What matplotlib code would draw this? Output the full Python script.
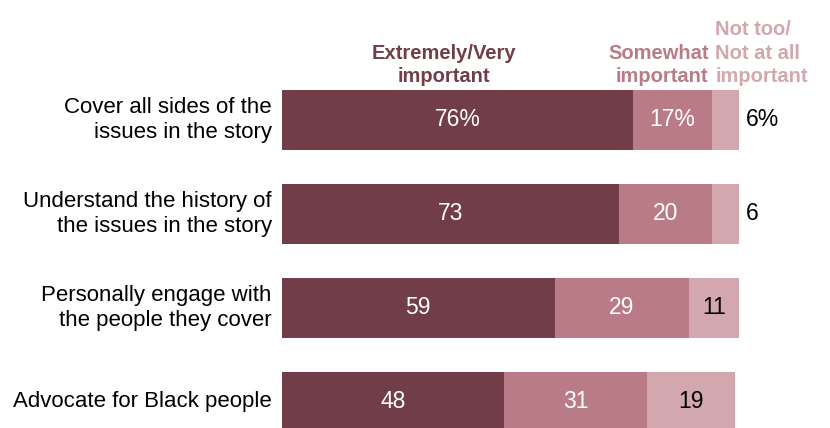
import numpy as np
import matplotlib.pyplot as plt

plt.rcParams['font.family'] = ['Liberation Sans', 'DejaVu Sans']

# Survey responses, share saying each is important
items = ["Cover all sides of the\nissues in the story",
         "Understand the history of\nthe issues in the story",
         "Personally engage with\nthe people they cover",
         "Advocate for Black people"]
very = [76, 73, 59, 48]
somewhat = [17, 20, 29, 31]
not_too = [6, 6, 11, 19]
very_lbl = ["76%", "73", "59", "48"]
some_lbl = ["17%", "20", "29", "31"]
not_lbl = ["6%", "6", "11", "19"]

c_dark = "#713d48"
c_mid = "#b97b86"
c_light = "#d3a7ae"

fig = plt.figure(figsize=(8.3, 4.28), dpi=100)
ax = fig.add_axes([282 / 830, 0, 1 - 282 / 830, 1])
px = 4.62  # pixels per percentage point
ax.set_xlim(0, (830 - 282) / px)
step = 94
ax.set_ylim((428 - 120) / step, -120 / step)
ax.axis("off")

y = np.arange(len(items))
h = 60 / step
very = np.array(very)
somewhat = np.array(somewhat)
not_too = np.array(not_too)

ax.barh(y, very, height=h, color=c_dark)
ax.barh(y, somewhat, left=very, height=h, color=c_mid)
ax.barh(y, not_too, left=very + somewhat, height=h, color=c_light)

fs = 16
nfs = 16.5
for i in range(len(items)):
    ax.text(very[i] / 2, y[i], very_lbl[i], ha="center", va="center",
            color="white", fontsize=nfs)
    ax.text(very[i] + somewhat[i] / 2, y[i], some_lbl[i], ha="center",
            va="center", color="white", fontsize=nfs)
    if not_too[i] < 8:
        ax.text(very[i] + somewhat[i] + not_too[i] + 1.5, y[i], not_lbl[i],
                ha="left", va="center", color="black", fontsize=nfs)
    else:
        ax.text(very[i] + somewhat[i] + not_too[i] / 2, y[i], not_lbl[i],
                ha="center", va="center", color="black", fontsize=nfs)
    ax.text(-2.2, y[i], items[i], ha="right", va="center", fontsize=fs,
            linespacing=1.3)

# column headers
hy = -0.36
hfs = 14.5
ax.text(35, hy, "Extremely/Very\nimportant", ha="center", va="bottom",
        color=c_dark, fontsize=hfs, fontweight="bold", linespacing=1.3)
ax.text(92.3, hy, "Somewhat\nimportant", ha="right", va="bottom",
        color=c_mid, fontsize=hfs, fontweight="bold", linespacing=1.3)
ax.text(93.8, hy, "Not too/\nNot at all\nimportant", ha="left", va="bottom",
        color=c_light, fontsize=hfs, fontweight="bold", linespacing=1.3)

fig.savefig("out.png", dpi=100)
